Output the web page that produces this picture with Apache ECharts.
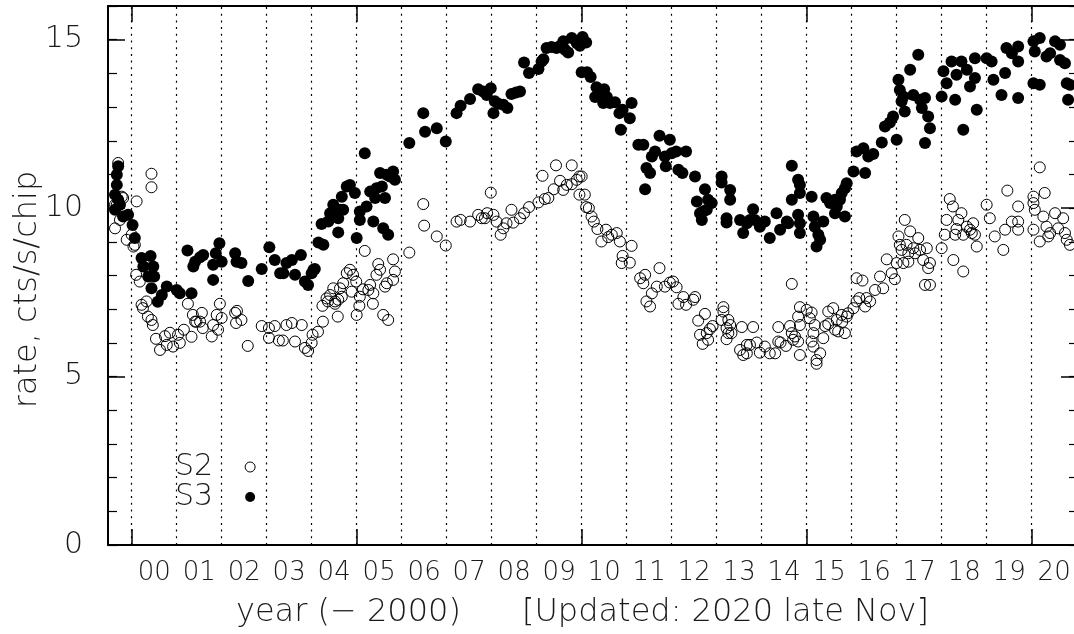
<!DOCTYPE html>
<html><head><meta charset="utf-8">
<script src="https://cdn.jsdelivr.net/npm/echarts@6/dist/echarts.min.js"></script>
<style>html,body{margin:0;padding:0;background:#fff}#c{width:1074px;height:634px}</style>
</head><body><div id="c"></div>
<script>
const yearLabels = ['00','01','02','03','04','05','06','07','08','09','10','11','12','13','14','15','16','17','18','19','20'];
const majorYears = [2000, 2005, 2010, 2015, 2020];
const gridYears = [2000,2001,2002,2003,2004,2005,2006,2007,2008,2009,2010,2011,2012,2013,2014,2015,2016,2017,2018,2019,2020];
const xTitle = 'year (\u2212 2000)      [Updated: 2020 late Nov]';
const yTitle = 'rate, cts/s/chip';

const s3Data = [
[1999.67,10.99],[1999.67,10.69],[1999.63,10.40],[1999.70,10.25],[1999.63,9.95],[1999.74,10.10],[1999.70,11.24],[1999.81,9.75],[1999.92,9.80],[2000.02,9.50],[2000.07,9.11],[2000.22,8.52],[2000.42,8.58],[2000.26,8.27],[2000.48,8.27],[2000.37,7.97],[2000.50,7.97],[2000.44,7.62],[2000.58,7.22],[2000.67,7.42],[2000.78,7.67],[2001.00,7.57],[2001.07,7.47],[2001.33,7.47],[2001.24,8.74],[2001.37,8.27],[2001.41,8.41],[2001.52,8.54],[2001.59,8.61],[2001.81,7.87],[2001.81,8.32],[2001.87,8.66],[2001.95,8.96],[2002.00,8.41],[2002.30,8.66],[2002.33,8.41],[2002.44,8.37],[2002.59,7.84],[2002.89,8.19],[2003.06,8.84],[2003.18,8.46],[2003.30,8.07],[2003.37,8.07],[2003.44,8.37],[2003.56,8.46],[2003.63,8.02],[2003.76,8.61],[2003.85,7.82],[2003.92,7.72],[2004.00,8.07],[2004.04,8.17],[2004.07,8.19],[2004.15,8.98],[2004.26,8.91],[2004.22,9.53],[2004.37,9.60],[2004.41,9.85],[2004.48,10.10],[2004.52,9.75],[2004.59,9.70],[2004.63,9.95],[2004.70,9.95],[2004.59,9.28],[2004.67,10.34],[2004.78,10.64],[2004.85,10.69],[2004.96,10.45],[2005.00,9.11],[2005.07,9.65],[2005.07,9.90],[2005.18,11.63],[2005.22,10.05],[2005.30,10.49],[2005.37,9.60],[2005.41,10.30],[2005.44,10.59],[2005.52,11.04],[2005.56,10.64],[2005.63,10.30],[2005.59,9.40],[2005.70,9.21],[2005.67,10.99],[2005.74,10.94],[2005.81,11.09],[2005.85,10.84],
[2006.17,11.93],[2006.48,12.82],[2006.52,12.27],[2006.78,12.37],[2006.98,11.98],[2007.22,12.82],[2007.31,13.04],[2007.52,13.24],[2007.70,13.53],[2007.81,13.46],[2007.89,13.36],[2007.98,13.56],[2008.04,12.82],[2008.07,13.17],[2008.15,13.10],[2008.26,13.07],[2008.35,12.97],[2008.44,13.39],[2008.54,13.43],[2008.63,13.46],[2008.72,14.32],[2008.83,14.01],[2009.04,14.13],[2009.11,14.35],[2009.15,14.42],[2009.22,14.75],[2009.33,14.78],[2009.44,14.75],[2009.50,14.80],[2009.59,14.95],[2009.63,14.70],[2009.70,14.62],[2009.78,15.05],[2009.89,14.90],[2009.96,14.82],[2010.02,15.08],[2010.10,14.92],[2010.00,14.03],[2010.12,14.03],[2010.20,13.89],[2010.30,13.30],[2010.33,13.59],[2010.41,13.46],[2010.50,13.53],[2010.56,13.30],[2010.48,13.12],[2010.63,13.12],[2010.74,13.14],[2010.84,12.82],[2010.91,12.92],[2010.87,12.33],[2011.07,12.67],[2011.11,13.12],[2011.26,11.88],[2011.37,11.88],[2011.44,11.19],[2011.52,11.04],[2011.41,10.56],[2011.56,11.53],[2011.63,11.68],[2011.73,12.15],[2011.85,11.53],[2011.87,11.24],[2011.96,12.03],[2012.00,11.63],[2012.10,11.68],[2012.15,11.14],[2012.24,11.04],[2012.32,11.68],[2012.52,10.94],[2012.74,10.56],[2012.56,10.20],[2012.63,9.85],[2012.67,9.65],[2012.81,10.25],[2012.89,10.15],[2012.78,9.95],[2012.70,9.90],[2013.11,10.94],[2013.11,10.76],[2013.30,10.54],[2013.30,10.25],[2013.22,9.70],[2013.22,9.57],[2013.52,9.65],[2013.59,9.26],[2013.67,9.55],[2013.74,9.65],[2013.81,9.97],[2013.85,9.65],[2013.96,9.45],[2014.07,9.60],[2014.18,9.11],[2014.33,9.85],[2014.41,9.36],[2014.56,9.60],[2014.59,9.55],[2014.67,11.26],[2014.81,10.84],[2014.85,10.69],[2014.85,10.45],[2014.67,10.25],[2014.81,9.80],[2014.85,9.55],[2014.85,9.26],[2015.11,10.34],[2015.15,9.75],[2015.18,9.45],[2015.26,9.21],[2015.22,8.86],[2015.30,9.06],[2015.37,9.60],[2015.44,10.30],[2015.52,10.15],[2015.63,10.25],[2015.67,10.05],[2015.74,10.25],[2015.63,9.85],[2015.78,10.45],[2015.85,10.59],[2015.89,10.74],[2015.85,9.75],[2016.04,11.09],[2016.11,11.68],[2016.26,11.78],[2016.30,11.04],[2016.37,11.53],[2016.48,11.61],[2016.67,11.95],[2016.74,12.42],[2016.85,12.54],[2017.00,12.03],[2016.92,12.72],[2017.04,13.81],[2017.07,13.51],[2017.15,13.31],[2017.11,13.17],[2017.18,12.87],[2017.30,14.11],[2017.48,14.55],[2017.37,13.36],[2017.52,13.22],[2017.56,12.97],[2017.63,13.27],[2017.70,12.72],[2017.74,12.37],[2017.63,11.93],[2018.00,13.31],[2018.04,14.06],[2018.11,13.71],[2018.22,14.35],[2018.30,13.22],[2018.33,13.96],[2018.44,14.35],[2018.48,12.33],[2018.56,14.11],[2018.63,13.61],[2018.74,14.45],[2018.74,13.86],[2018.78,12.92],[2019.00,14.45],[2019.11,14.35],[2019.15,13.81],[2019.33,13.36],[2019.41,14.01],[2019.44,14.75],[2019.56,14.60],[2019.70,14.80],[2019.70,14.35],[2019.70,13.27],[2020.04,14.95],[2020.18,15.05],[2020.07,14.65],[2020.04,13.71],[2020.18,13.66],[2020.33,14.50],[2020.41,14.60],[2020.52,14.95],[2020.63,14.85],[2020.63,14.40],[2020.74,14.30],[2020.78,13.71],[2020.85,13.66],[2020.81,13.22]
];

const s2Data = [
[1999.70,11.34],[2000.44,11.02],[2000.44,10.62],[2000.11,10.20],[1999.63,10.10],[1999.78,10.34],[1999.81,10.30],[1999.67,10.10],[1999.63,9.40],[1999.74,9.65],[1999.89,9.06],[2000.00,9.21],[2000.07,8.91],[2000.04,8.86],[2000.10,8.02],[2000.18,7.82],[2000.22,7.13],[2000.25,7.03],[2000.33,7.23],[2000.36,6.78],[2000.44,6.68],[2000.47,6.53],[2000.54,6.12],[2000.63,5.79],[2000.74,6.20],[2000.85,6.30],[2000.92,5.89],[2000.78,5.94],[2001.03,6.24],[2001.07,6.00],[2001.16,6.39],[2001.25,7.16],[2001.33,6.18],[2001.36,6.83],[2001.41,6.63],[2001.44,6.63],[2001.52,6.63],[2001.56,6.89],[2001.58,6.44],[2001.78,6.19],[2001.81,6.53],[2001.89,6.83],[2001.92,6.39],[2001.96,7.16],[2002.00,6.74],[2002.30,6.89],[2002.34,6.95],[2002.32,6.59],[2002.44,6.68],[2002.58,5.91],[2002.89,6.50],[2003.05,6.44],[2003.18,6.50],[2003.05,6.15],[2003.27,6.07],[2003.36,6.07],[2003.44,6.53],[2003.56,6.59],[2003.63,6.04],[2003.78,6.53],[2003.85,5.85],[2003.92,5.76],[2004.00,6.00],[2004.02,6.24],[2004.14,6.33],[2004.25,6.63],[2004.24,7.10],[2004.36,7.23],[2004.52,7.16],[2004.58,6.78],[2004.33,7.32],[2004.41,7.42],[2004.48,7.62],[2004.52,7.23],[2004.59,7.28],[2004.63,7.62],[2004.67,7.37],[2004.70,7.77],[2004.78,8.07],[2004.85,8.17],[2004.92,8.02],[2004.89,7.52],[2004.99,7.82],[2005.00,6.83],[2005.06,7.10],[2005.07,7.37],[2005.14,7.59],[2005.26,7.57],[2005.30,7.72],[2005.37,7.47],[2005.36,7.16],[2005.18,8.73],[2005.44,8.02],[2005.48,8.34],[2005.52,8.17],[2005.63,7.67],[2005.67,7.77],[2005.59,6.83],[2005.70,6.68],[2005.81,8.48],[2005.85,8.12],[2005.81,7.87],
[2006.17,8.68],[2006.48,10.12],[2006.50,9.48],[2006.78,9.16],[2006.98,8.89],[2007.22,9.60],[2007.31,9.65],[2007.52,9.60],[2007.70,9.80],[2007.78,9.70],[2007.85,9.70],[2007.90,9.85],[2007.98,10.46],[2008.04,9.80],[2008.11,9.60],[2008.20,9.21],[2008.26,9.40],[2008.33,9.55],[2008.44,9.95],[2008.48,9.57],[2008.63,9.70],[2008.72,9.85],[2008.83,10.03],[2009.04,10.17],[2009.13,10.96],[2009.18,10.27],[2009.26,10.30],[2009.38,10.56],[2009.43,11.27],[2009.52,10.81],[2009.59,10.54],[2009.67,10.69],[2009.78,11.27],[2009.78,10.71],[2009.89,10.84],[2009.95,10.94],[2010.00,10.94],[2009.95,10.40],[2010.07,10.40],[2010.10,10.03],[2010.16,10.00],[2010.22,9.75],[2010.27,9.60],[2010.35,9.38],[2010.44,9.01],[2010.54,9.36],[2010.59,9.14],[2010.67,9.21],[2010.78,9.26],[2010.85,9.01],[2011.11,8.88],[2010.91,8.58],[2010.89,8.37],[2011.07,8.38],[2011.30,7.92],[2011.41,8.02],[2011.37,7.77],[2011.73,8.22],[2011.67,7.67],[2011.85,7.67],[2011.96,7.79],[2012.03,7.82],[2012.11,7.65],[2011.56,7.47],[2012.26,7.36],[2012.52,7.36],[2011.52,7.08],[2011.44,7.23],[2012.15,7.16],[2012.32,7.13],[2012.48,7.28],[2012.74,6.86],[2012.59,6.66],[2012.63,6.24],[2012.69,5.97],[2012.81,6.09],[2012.78,6.29],[2012.85,6.41],[2012.91,6.50],[2013.15,7.06],[2013.15,6.93],[2013.11,6.68],[2013.22,6.44],[2013.26,6.68],[2013.30,6.53],[2013.26,6.29],[2013.33,6.29],[2013.22,6.11],[2013.56,6.47],[2013.81,6.47],[2013.52,5.79],[2013.59,5.64],[2013.67,5.69],[2013.67,5.94],[2013.74,5.94],[2013.89,6.01],[2013.96,5.71],[2014.07,5.89],[2014.18,5.69],[2014.30,5.69],[2014.37,6.04],[2014.37,6.47],[2014.42,6.01],[2014.54,5.91],[2014.63,6.50],[2014.67,6.29],[2014.70,6.09],[2014.74,6.19],[2014.67,7.75],[2014.85,7.06],[2014.81,6.78],[2014.85,6.53],[2014.81,6.04],[2014.85,5.64],[2015.00,6.98],[2015.11,6.90],[2015.07,6.73],[2015.18,6.53],[2015.15,6.29],[2015.11,6.04],[2015.15,5.89],[2015.30,5.69],[2015.22,5.49],[2015.22,5.38],[2015.37,6.14],[2015.41,6.50],[2015.48,6.56],[2015.48,6.93],[2015.59,7.03],[2015.67,6.68],[2015.63,6.39],[2015.70,6.34],[2015.78,6.83],[2015.79,6.62],[2015.85,6.29],[2015.89,6.78],[2015.92,6.88],[2016.04,7.03],[2016.11,7.23],[2016.30,7.08],[2016.41,7.23],[2016.11,7.92],[2016.24,7.85],[2016.17,7.33],[2016.33,7.33],[2016.52,7.57],[2016.63,7.97],[2016.70,7.62],[2016.78,8.48],[2016.89,8.07],[2016.96,7.89],[2017.00,8.37],[2017.04,9.16],[2017.07,8.91],[2017.11,8.76],[2017.15,8.37],[2017.18,9.65],[2017.22,8.91],[2017.26,8.66],[2017.26,8.41],[2017.30,9.31],[2017.37,8.81],[2017.41,8.66],[2017.48,9.11],[2017.52,8.76],[2017.59,8.46],[2017.67,8.81],[2017.70,8.22],[2017.63,7.72],[2017.74,7.72],[2017.74,8.37],[2018.00,8.81],[2018.11,9.65],[2018.07,9.21],[2018.18,10.27],[2018.25,10.05],[2018.30,9.21],[2018.37,9.65],[2018.33,9.38],[2018.44,9.85],[2018.48,9.21],[2018.48,8.12],[2018.26,8.46],[2018.56,9.45],[2018.63,9.36],[2018.67,9.26],[2018.70,9.55],[2018.78,8.86],[2018.74,9.21],[2019.00,10.10],[2019.07,9.70],[2019.18,9.16],[2019.37,8.76],[2019.41,9.36],[2019.46,10.52],[2019.56,9.60],[2019.70,10.05],[2019.70,9.60],[2019.70,9.36],[2020.04,10.34],[2020.04,10.15],[2020.07,9.95],[2020.04,9.36],[2020.18,11.21],[2020.29,10.45],[2020.26,9.75],[2020.33,9.45],[2020.41,9.26],[2020.18,9.01],[2020.37,9.16],[2020.52,9.85],[2020.59,9.40],[2020.70,9.70],[2020.74,9.26],[2020.78,9.06],[2020.85,8.91]
];

const FONT = "'DejaVu Sans', sans-serif";
const TXT = '#1a1a1a';
const X_MIN = 1999.474, X_MAX = 2021.03;
const labelPositions = yearLabels.map((_, i) => 2000.5 + i);

const chart = echarts.init(document.getElementById('c'), null, {renderer: 'canvas'});
const lineStyle = {color: '#000', width: 2};
function xAx(pos, withLabels) {
  return {
    type: 'value', min: X_MIN, max: X_MAX, position: pos,
    axisLine: {show: true, onZero: false, lineStyle: lineStyle},
    axisTick: {show: true, inside: true, length: 16, customValues: majorYears, lineStyle: {color: '#000', width: 1.5}},
    axisLabel: withLabels ? {show: true, customValues: labelPositions, formatter: v => yearLabels[Math.round(v - 2000.5)],
      fontSize: 26, margin: 15, color: TXT, fontFamily: FONT, fontWeight: 200} : {show: false},
    splitLine: {show: false},
    name: withLabels ? xTitle : '', nameLocation: 'middle', nameGap: 52,
    nameTextStyle: {fontSize: 32, color: TXT, fontFamily: FONT, fontWeight: 200, padding: [0, 21, 0, 0]}
  };
}
function yAx(pos, major, withLabels) {
  return {
    type: 'value', min: 0, max: 16, interval: major ? 5 : 1, position: pos,
    axisLine: {show: major, onZero: false, lineStyle: lineStyle},
    axisTick: {show: true, inside: true, length: major ? 17 : 9, lineStyle: {color: '#000', width: major ? 1.5 : 1.2}},
    axisLabel: withLabels ? {show: true, formatter: v => (v % 5 === 0 ? String(v) : ''), fontSize: 30, margin: 25, color: TXT, fontFamily: FONT, fontWeight: 200} : {show: false},
    splitLine: {show: false},
    name: withLabels ? yTitle : '', nameLocation: 'middle', nameRotate: 90, nameGap: 64, nameMoveOverlap: false,
    nameTextStyle: {fontSize: 32, color: TXT, fontFamily: FONT, fontWeight: 200, padding: [0, 28, 0, 0]}
  };
}

chart.setOption({
  animation: false,
  backgroundColor: '#fff',
  grid: {left: 108, right: -4, top: 6, bottom: 89, outerBoundsMode: 'none', containLabel: false},
  xAxis: [xAx('bottom', true), xAx('top', false)],
  yAxis: [yAx('left', true, true), yAx('left', false, false), yAx('right', true, false), yAx('right', false, false)],
  legend: {
    orient: 'vertical', left: 175, top: 452, padding: 0, align: 'right', itemWidth: 10, itemHeight: 10, itemGap: 0,
    data: [{name: 'S2', itemStyle: {borderWidth: 1, color: 'rgba(0,0,0,0)', borderColor: '#000'}}, {name: 'S3'}],
    textStyle: {fontSize: 30, lineHeight: 30, padding: [0, 27, 0, 0], color: TXT, fontFamily: FONT, fontWeight: 200}
  },
  series: [
    {type: 'scatter', name: 'grid', data: [], z: 1, silent: true,
     markLine: {silent: true, symbol: 'none', label: {show: false}, animation: false,
       lineStyle: {type: [2, 4.7], color: '#000', width: 1.2},
       data: gridYears.map(y => ({xAxis: y}))}},
    {type: 'scatter', name: 'S3', data: s3Data, symbol: 'circle', symbolSize: 12, z: 3,
     itemStyle: {color: '#000', opacity: 1}},
    {type: 'scatter', name: 'S2', data: s2Data, symbol: 'circle', symbolSize: 11, z: 4,
     itemStyle: {color: 'rgba(0,0,0,0)', borderColor: '#000', borderWidth: 1, opacity: 1}}
  ]
});
</script></body></html>
